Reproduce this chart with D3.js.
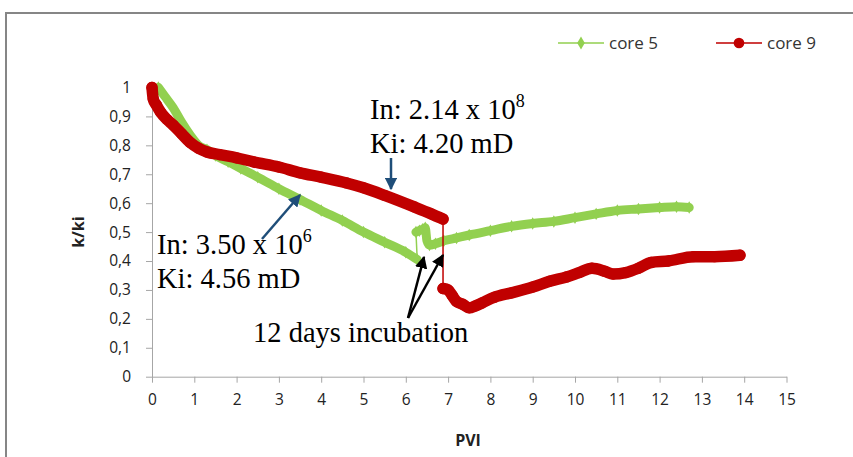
<!DOCTYPE html>
<html>
<head>
<meta charset="utf-8">
<script src="https://cdn.jsdelivr.net/npm/d3@7"></script>
<style>
  body { margin: 0; background: #fff; }
  svg { display: block; }
</style>
</head>
<body>
<div id="chart"></div>
<script>
// core 5 (green diamonds)
const core5X = [0.15, 0.3, 0.5, 0.7, 0.9, 1.1, 1.3, 1.5, 1.8, 2.1, 2.5, 3, 3.5, 4, 4.5, 5, 5.5, 6, 6.27,
    6.24, 6.32, 6.4, 6.46, 6.5, 6.56, 6.7, 6.9, 7.2, 7.5, 8, 8.5, 9, 9.5, 10, 10.5, 11, 11.5, 12, 12.4, 12.7];
const core5Y = [1.0, 0.97, 0.93, 0.88, 0.836, 0.80, 0.785, 0.765, 0.743, 0.72, 0.69, 0.65, 0.613, 0.575, 0.54, 0.50, 0.465, 0.43, 0.405,
    0.50, 0.505, 0.51, 0.515, 0.47, 0.455, 0.46, 0.47, 0.48, 0.49, 0.505, 0.52, 0.53, 0.537, 0.55, 0.563, 0.575, 0.58, 0.585, 0.588, 0.585];

// core 9 (red circles)
const core9X = [0, 0.03, 0.1, 0.2, 0.35, 0.5, 0.7, 0.9, 1.1, 1.3, 1.6, 2, 2.4, 3, 3.5, 4, 4.6, 5, 5.5, 6.2, 6.6, 6.88,
    6.88, 7.0, 7.1, 7.2, 7.35, 7.5, 7.65, 7.8, 8.1, 8.5, 9, 9.4, 9.8, 10.1, 10.4, 10.7, 10.9, 11.2, 11.5, 11.8, 12.2, 12.8, 13.3, 13.9];
const core9Y = [1.0, 0.96, 0.94, 0.915, 0.89, 0.87, 0.84, 0.81, 0.79, 0.777, 0.768, 0.757, 0.743, 0.725, 0.705, 0.69, 0.67, 0.653, 0.627, 0.587, 0.563, 0.545,
    0.305, 0.30, 0.28, 0.26, 0.25, 0.238, 0.245, 0.255, 0.275, 0.29, 0.31, 0.33, 0.345, 0.36, 0.375, 0.365, 0.355, 0.36, 0.375, 0.395, 0.40, 0.415, 0.415, 0.42];

const xTicks = d3.range(0, 16, 1);
const yTicks = [0, 0.1, 0.2, 0.3, 0.4, 0.5, 0.6, 0.7, 0.8, 0.9, 1];
const yTickLabels = ["0", "0,1", "0,2", "0,3", "0,4", "0,5", "0,6", "0,7", "0,8", "0,9", "1"];

const width = 853, height = 457;
const green = "#92d050", red = "#c00000", blue = "#1f4e79";
const labelFont = "'Open Sans', sans-serif";
const serif = "'Liberation Serif', 'Times New Roman', serif";

const svg = d3.select("#chart").append("svg")
    .attr("width", width)
    .attr("height", height);

// outer frame
svg.append("rect")
    .attr("x", 6).attr("y", 13)
    .attr("width", 900).attr("height", 500)
    .attr("fill", "#fff")
    .attr("stroke", "#868686")
    .attr("stroke-width", 2);

const x = d3.scaleLinear().domain([0, 15]).range([152, 786.5]);
const y = d3.scaleLinear().domain([0, 1]).range([376.7, 87.5]);

// x axis
svg.append("g")
    .attr("transform", `translate(0,${y(0)})`)
    .call(d3.axisBottom(x).tickValues(xTicks).tickSize(6).tickPadding(11).tickSizeOuter(0))
    .call(g => g.selectAll("line, path").attr("stroke", "#a6a6a6"))
    .call(g => g.selectAll("text").attr("font-family", labelFont).attr("font-size", 15.5).attr("fill", "#222"));

// y axis
svg.append("g")
    .attr("transform", `translate(${x(0)},0)`)
    .call(d3.axisLeft(y).tickValues(yTicks).tickFormat((d, i) => yTickLabels[i]).tickSize(6).tickPadding(15).tickSizeOuter(0))
    .call(g => g.selectAll("line, path").attr("stroke", "#a6a6a6"))
    .call(g => g.selectAll("text").attr("font-family", labelFont).attr("font-size", 15.5).attr("fill", "#222"));

// axis titles
svg.append("text")
    .attr("x", 468).attr("y", 446)
    .attr("text-anchor", "middle")
    .attr("font-family", labelFont).attr("font-size", 16).attr("font-weight", "bold")
    .attr("fill", "#222")
    .text("PVI");
svg.append("text")
    .attr("transform", "translate(84,232) rotate(-90)")
    .attr("text-anchor", "middle")
    .attr("font-family", labelFont).attr("font-size", 16).attr("font-weight", "bold")
    .attr("fill", "#222")
    .text("k/ki");

// split a series into continuous runs where the value jumps
function runs(xs, ys) {
    const out = [];
    let cur = [];
    xs.forEach((v, i) => {
        if (i > 0 && Math.abs(ys[i] - ys[i - 1]) > 0.08) { out.push(cur); cur = []; }
        cur.push([v, ys[i]]);
    });
    out.push(cur);
    return out;
}

const line = d3.line().x(d => x(d[0])).y(d => y(d[1]));
const smooth = d3.line().x(d => x(d[0])).y(d => y(d[1])).curve(d3.curveMonotoneX);

function drawSeries(xs, ys, color, bandWidth, marker, msize) {
    const pts = xs.map((v, i) => [v, ys[i]]);
    const g = svg.append("g");
    // thin connecting line
    g.append("path")
        .attr("d", line(pts))
        .attr("fill", "none")
        .attr("stroke", color)
        .attr("stroke-width", 1.5);
    // dense marker band
    runs(xs, ys).forEach(r => {
        g.append("path")
            .attr("d", r.every((d, i) => i === 0 || d[0] > r[i - 1][0]) ? smooth(r) : line(r))
            .attr("fill", "none")
            .attr("stroke", color)
            .attr("stroke-width", bandWidth)
            .attr("stroke-linecap", "round")
            .attr("stroke-linejoin", "round");
    });
    g.selectAll(".m")
        .data(pts)
        .join("path")
        .attr("d", d3.symbol().type(marker).size(msize))
        .attr("transform", d => `translate(${x(d[0])},${y(d[1])})`)
        .attr("fill", color);
}

drawSeries(core5X, core5Y, green, 9, d3.symbolDiamond, 45);
drawSeries(core9X, core9Y, red, 11.5, d3.symbolCircle, 100);

// legend
const legend = [
    {name: "core 5", color: green, marker: d3.symbolDiamond, size: 50, x0: 558},
    {name: "core 9", color: red, marker: d3.symbolCircle, size: 90, x0: 716}
];
legend.forEach(l => {
    const lg = svg.append("g");
    lg.append("line")
        .attr("x1", l.x0).attr("x2", l.x0 + 46)
        .attr("y1", 43).attr("y2", 43)
        .attr("stroke", l.color).attr("stroke-width", 2).attr("opacity", 0.75);
    lg.append("path")
        .attr("d", d3.symbol().type(l.marker).size(l.size))
        .attr("transform", `translate(${l.x0 + 23},43)`)
        .attr("fill", l.color);
    lg.append("text")
        .attr("x", l.x0 + 51).attr("y", 49)
        .attr("font-family", labelFont).attr("font-size", 17)
        .attr("fill", "#333")
        .text(l.name);
});

// arrowheads
const defs = svg.append("defs");
[["ah-blue", blue], ["ah-black", "#000"]].forEach(([id, c]) => {
    defs.append("marker")
        .attr("id", id)
        .attr("viewBox", "0 0 10 10")
        .attr("refX", 9).attr("refY", 5)
        .attr("markerWidth", 5).attr("markerHeight", 5)
        .attr("markerUnits", "strokeWidth")
        .attr("orient", "auto")
        .append("path")
        .attr("d", "M0,0 L10,5 L0,10 Z")
        .attr("fill", c);
});

function arrow(x1, y1, x2, y2, color, id) {
    svg.append("line")
        .attr("x1", x1).attr("y1", y1).attr("x2", x2).attr("y2", y2)
        .attr("stroke", color).attr("stroke-width", 2.5)
        .attr("marker-end", `url(#${id})`);
}
arrow(262, 239, 300, 195, blue, "ah-blue");
arrow(391, 158, 391, 189, blue, "ah-blue");
arrow(408, 318, 424, 257, "#000", "ah-black");
arrow(408, 318, 443, 255, "#000", "ah-black");

// annotations
function note(x0, y0, lines) {
    lines.forEach((ln, i) => {
        const t = svg.append("text")
            .attr("x", x0).attr("y", y0 + i * 34)
            .attr("font-family", serif).attr("font-size", 28.5)
            .attr("fill", "#000");
        t.append("tspan").text(ln[0]);
        if (ln[1]) {
            t.append("tspan").attr("dy", -12).attr("font-size", 18).text(ln[1]);
        }
    });
}
note(370, 119, [["In: 2.14 x 10", "8"], ["Ki: 4.20 mD"]]);
note(157, 254, [["In: 3.50 x 10", "6"], ["Ki: 4.56 mD"]]);
note(253, 342, [["12 days incubation"]]);
</script>
</body>
</html>
